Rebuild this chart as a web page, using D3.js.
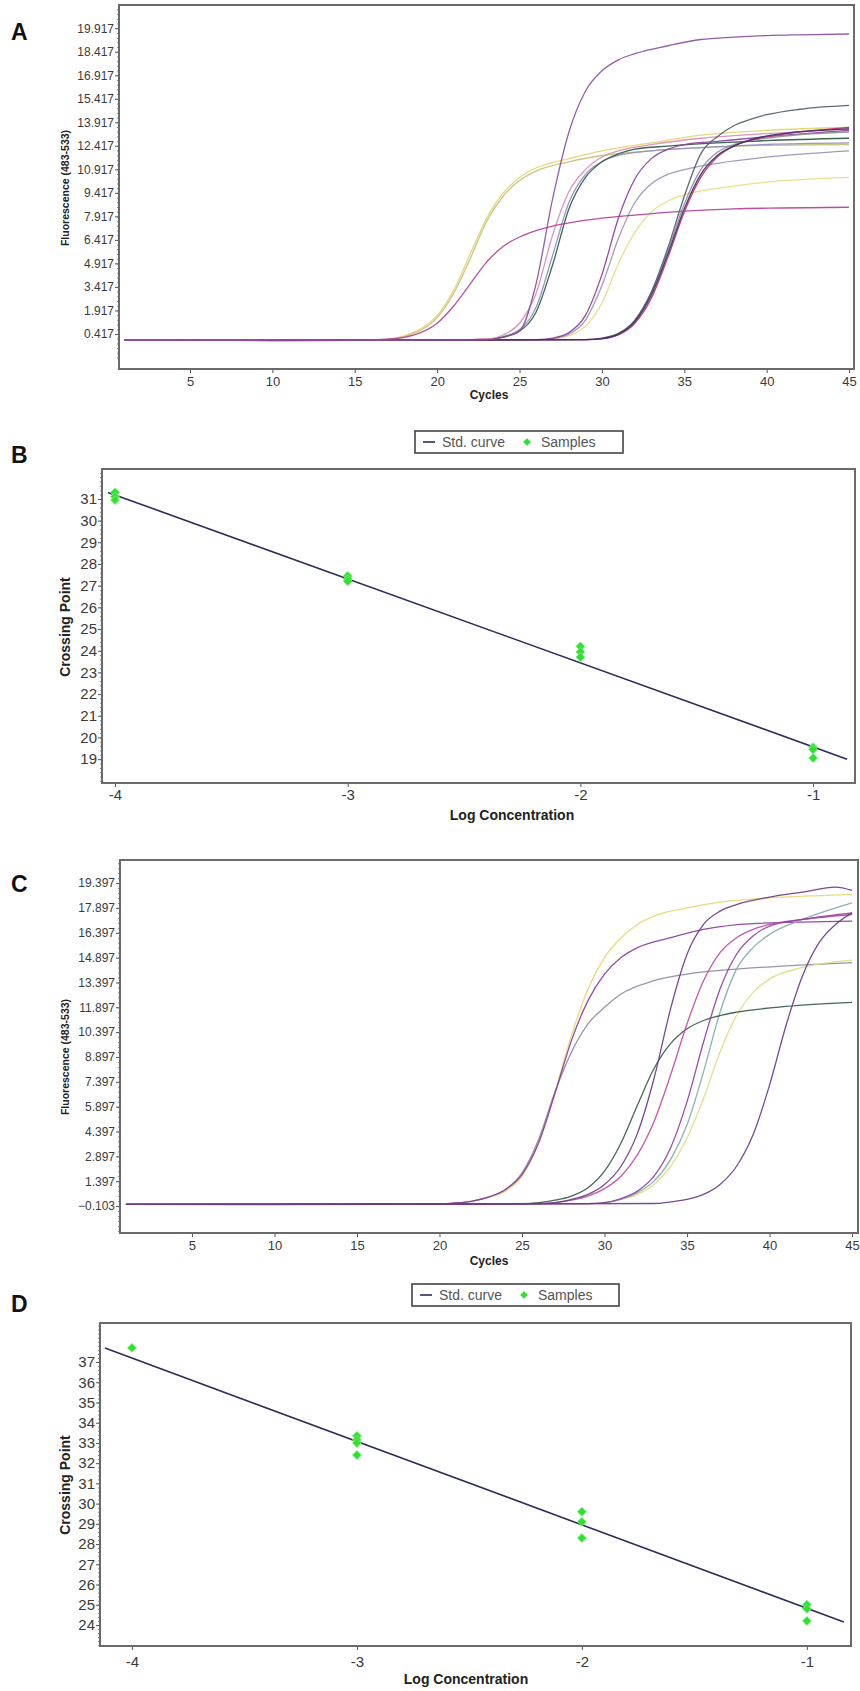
<!DOCTYPE html>
<html><head><meta charset="utf-8">
<script src="https://cdn.jsdelivr.net/npm/d3@7"></script>
<style>
body{margin:0;background:#fff;}
svg{display:block;font-family:"Liberation Sans",Arial,sans-serif;}
</style></head><body>
<svg id="fig" width="860" height="1691"></svg>
<script>
// ---------- tick labels ----------
const cycleTicks = [5,10,15,20,25,30,35,40,45];
const fluorTicksA = [0.417,1.917,3.417,4.917,6.417,7.917,9.417,10.917,12.417,13.917,15.417,16.917,18.417,19.917];
const fluorTicksC = [-0.103,1.397,2.897,4.397,5.897,7.397,8.897,10.397,11.897,13.397,14.897,16.397,17.897,19.397];
const logTicks = [-4,-3,-2,-1];
const cpTicksB = [19,20,21,22,23,24,25,26,27,28,29,30,31];
const cpTicksD = [24,25,26,27,28,29,30,31,32,33,34,35,36,37];

// ---------- panel A amplification curves: [cycle, fluorescence] ----------
const A_yellow      = [[1,0],[15,0.02],[17,0.08],[18,0.3],[19,0.75],[20,1.6],[21,3.2],[22,5.5],[23,7.8],[24,9.4],[25,10.4],[26,11.0],[28,11.6],[30,12.1],[33,12.6],[36,13.1],[40,13.4],[45,13.6]];
const A_olive       = [[1,0],[15,0.02],[17,0.07],[18,0.25],[19,0.65],[20,1.45],[21,3.0],[22,5.2],[23,7.6],[24,9.2],[25,10.2],[26,10.8],[28,11.4],[30,11.8],[33,12.1],[36,12.3],[40,12.45],[45,12.5]];
const A_yellowC     = [[1,0],[20,0.02],[26,0.04],[27,0.1],[28,0.3],[29,0.9],[30,2.4],[31,4.9],[32,6.9],[33,8.2],[34,8.9],[35,9.3],[37,9.7],[40,10.1],[45,10.4]];
const A_lavender    = [[1,0],[20,0.02],[23,0.08],[24,0.25],[25,0.7],[26,2.1],[27,5.4],[28,8.8],[29,10.6],[30,11.4],[31,11.8],[33,12.1],[36,12.3],[40,12.5],[45,12.6]];
const A_darkGreen   = [[1,0],[20,0.02],[23,0.07],[24,0.22],[25,0.6],[26,1.8],[27,4.8],[28,8.4],[29,10.4],[30,11.4],[31,11.9],[32,12.2],[34,12.4],[37,12.6],[40,12.75],[45,12.9]];
const A_pink        = [[1,0],[20,0.02],[23,0.1],[24,0.35],[25,1.1],[26,3.0],[27,6.7],[28,9.5],[29,10.9],[30,11.7],[31,12.1],[33,12.5],[36,12.9],[40,13.2],[45,13.5]];
const A_grayPurpleC = [[1,0],[20,0.02],[26,0.05],[27,0.12],[28,0.4],[29,1.3],[30,3.5],[31,6.5],[32,8.8],[33,10.0],[34,10.6],[35,10.9],[37,11.3],[40,11.7],[45,12.1]];
const A_purpleC     = [[1,0],[20,0.02],[26,0.05],[27,0.15],[28,0.5],[29,1.6],[30,4.2],[31,7.8],[32,10.3],[33,11.6],[34,12.2],[35,12.5],[37,12.7],[40,13.0],[45,13.4]];
const A_grayD       = [[1,0],[20,0.02],[29,0.05],[30,0.12],[31,0.4],[32,1.25],[33,3.0],[34,5.7],[35,8.7],[36,10.9],[37,12.0],[38,12.5],[40,12.9],[45,13.3]];
const A_slateD      = [[1,0],[20,0.02],[29,0.05],[30,0.15],[31,0.45],[32,1.3],[33,3.1],[34,5.9],[35,9.2],[36,11.9],[37,13.0],[38,13.7],[39,14.1],[40,14.4],[42,14.75],[45,15.0]];
const A_redD        = [[1,0],[20,0.02],[29,0.05],[30,0.1],[31,0.35],[32,1.1],[33,2.7],[34,5.3],[35,8.2],[36,10.4],[37,11.7],[38,12.4],[40,13.0],[42,13.3],[45,13.6]];
const A_navyD       = [[1,0],[20,0.02],[29,0.05],[30,0.12],[31,0.4],[32,1.2],[33,2.9],[34,5.5],[35,8.4],[36,10.6],[37,11.8],[38,12.4],[39,12.8],[41,13.2],[45,13.5]];
const A_magentaLow  = [[1,0],[15,0.02],[17,0.08],[18,0.2],[19,0.5],[20,1.1],[21,2.2],[22,3.6],[23,5.0],[24,6.0],[25,6.6],[26,7.0],[27,7.3],[28,7.5],[30,7.8],[32,8.0],[35,8.25],[38,8.4],[41,8.45],[45,8.5]];
const A_tallPurple  = [[1,0],[5,0.02],[10,-0.02],[15,0],[20,0.02],[23,0.05],[24,0.2],[25,0.6],[26,3.6],[27,9.0],[28,13.3],[29,15.9],[30,17.2],[31,17.9],[32,18.3],[34,18.8],[36,19.2],[38,19.35],[40,19.45],[42,19.5],[45,19.55]];

const curvesA = [A_yellow, A_olive, A_yellowC, A_lavender, A_darkGreen, A_pink, A_grayPurpleC, A_purpleC, A_grayD, A_slateD, A_redD, A_navyD, A_magentaLow, A_tallPurple];
const colorsA = ["#e6d46c","#c6c27c","#e8dc88","#8e8cc4","#2f5a3e","#d98cb3","#9c92b2","#8a3d9e","#8e8e98","#4e5e6a","#c0306a","#3a2f6a","#b0409a","#8b4fa0"];

// ---------- panel C amplification curves ----------
const C_yellow1     = [[1,0],[15,0.02],[20,0.02],[21,0.08],[22,0.2],[23,0.42],[24,0.8],[25,1.7],[26,3.7],[27,6.8],[28,10.2],[29,13.0],[30,14.9],[31,16.1],[32,16.9],[33,17.4],[35,17.9],[37,18.25],[40,18.5],[45,18.7]];
const C_grayPurple1 = [[1,0],[15,0.02],[20,0.02],[21,0.08],[22,0.2],[23,0.45],[24,0.9],[25,1.9],[26,3.9],[27,6.8],[28,9.2],[29,10.9],[30,11.9],[31,12.7],[33,13.5],[35,13.9],[38,14.2],[41,14.4],[45,14.6]];
const C_purple1     = [[1,0],[15,0.02],[20,0.02],[21,0.08],[22,0.2],[23,0.45],[24,0.9],[25,1.8],[26,3.7],[27,6.7],[28,9.9],[29,12.3],[30,13.9],[31,14.9],[32,15.5],[34,16.1],[36,16.6],[39,16.95],[45,17.1]];
const C_yellow3     = [[1,0],[20,0.02],[29,0.04],[30,0.1],[31,0.3],[32,0.6],[33,1.2],[34,2.3],[35,4.0],[36,6.4],[37,9.2],[38,11.4],[39,12.8],[40,13.6],[42,14.3],[45,14.75]];
const C_teal3       = [[1,0],[20,0.02],[29,0.04],[30,0.1],[31,0.3],[32,0.7],[33,1.4],[34,2.7],[35,4.8],[36,8.0],[37,11.6],[38,14.2],[39,15.5],[40,16.3],[42,17.2],[45,18.2]];
const C_darkGreen2  = [[1,0],[20,0.02],[25,0.04],[26,0.1],[27,0.25],[28,0.5],[29,1.0],[30,2.0],[31,3.7],[32,6.0],[33,8.2],[34,9.7],[35,10.6],[36,11.1],[37,11.4],[38,11.6],[41,11.95],[45,12.2]];
const C_magenta2    = [[1,0],[20,0.02],[26,0.04],[27,0.1],[28,0.25],[29,0.5],[30,0.95],[31,1.7],[32,3.0],[33,5.0],[34,7.8],[35,10.9],[36,13.5],[37,15.2],[38,16.1],[39,16.6],[40,16.9],[42,17.2],[45,17.5]];
const C_purple3     = [[1,0],[20,0.02],[29,0.04],[30,0.1],[31,0.35],[32,0.8],[33,1.7],[34,3.4],[35,6.2],[36,9.8],[37,13.0],[38,15.1],[39,16.2],[40,16.8],[42,17.2],[45,17.6]];
const C_purple2     = [[1,0],[20,0.02],[26,0.04],[27,0.1],[28,0.3],[29,0.6],[30,1.2],[31,2.3],[32,4.3],[33,7.6],[34,11.8],[35,15.1],[36,16.9],[37,17.7],[38,18.1],[40,18.55],[42,18.85],[44,19.15],[45,18.95]];
const C_purple4     = [[1,0],[10,-0.02],[20,0.02],[33,0.05],[34,0.15],[35,0.3],[36,0.6],[37,1.2],[38,2.3],[39,4.2],[40,7.2],[41,10.8],[42,13.8],[43,15.8],[44,16.9],[45,17.6]];

const curvesC = [C_yellow1, C_grayPurple1, C_purple1, C_yellow3, C_teal3, C_darkGreen2, C_magenta2, C_purple3, C_purple2, C_purple4];
const colorsC = ["#e6d86e","#8e8aa6","#8a3c9c","#e2dc86","#86a8ae","#355a48","#c048a6","#9040a0","#6e3a88","#6a3c8a"];

// ---------- standard curves ----------
const stdLineB = [[-4.03,31.3],[-0.854,19.0]];
const samplesB = [[-4,31.3],[-4,31.1],[-4,30.95],[-3,27.45],[-3,27.3],[-3,27.2],[-2,24.2],[-2,23.95],[-2,23.7],[-1,19.55],[-1,19.45],[-1,19.05]];
const stdLineD = [[-4.12,37.69],[-0.836,24.15]];
const samplesD = [[-4,37.7],[-3,33.35],[-3,33.15],[-3,33.0],[-3,32.4],[-2,29.6],[-2,29.1],[-2,28.3],[-1,25.0],[-1,24.8],[-1,24.2]];

const legendLabels = ["Std. curve","Samples"];

// ---------- drawing ----------
const svg = d3.select("#fig");
const FRAME = "#6a6a6a", TICKTXT = "#3a3a3a", STD = "#2b2b5e", GREEN = "#30e030";

function frame(g, x0, y0, x1, y1){
  g.append("rect").attr("x",x0).attr("y",y0).attr("width",x1-x0).attr("height",y1-y0)
   .attr("fill","none").attr("stroke",FRAME).attr("stroke-width",2);
}
function styleAxis(sel, fs){
  sel.select(".domain").remove();
  sel.selectAll(".tick line").attr("stroke","#555");
  sel.selectAll(".tick text").attr("fill",TICKTXT).style("font-size",fs+"px");
}
function panelLetter(t, x, y){
  svg.append("text").attr("x",x).attr("y",y).text(t)
    .style("font-size","23px").style("font-weight","bold").attr("fill","#111");
}
function yTitle(t, x, y, fs){
  svg.append("text").attr("transform",`translate(${x},${y}) rotate(-90)`)
    .attr("text-anchor","middle").attr("dy","0.35em").text(t)
    .style("font-size",fs+"px").style("font-weight","bold").attr("fill","#222");
}
function xTitle(t, x, y, fs){
  svg.append("text").attr("x",x).attr("y",y).attr("text-anchor","middle").text(t)
    .style("font-size",fs+"px").style("font-weight","bold").attr("fill","#222");
}

function ampPanel(o){
  const g = svg.append("g");
  const x = d3.scaleLinear().domain(o.xDom).range([o.x0,o.x1]);
  const y = d3.scaleLinear().domain(o.yDom).range([o.y1,o.y0]);
  const cid = "clip"+o.id;
  g.append("clipPath").attr("id",cid).append("rect")
    .attr("x",o.x0).attr("y",o.y0).attr("width",o.x1-o.x0).attr("height",o.y1-o.y0);
  const line = d3.line().x(d=>x(d[0])).y(d=>y(d[1])).curve(d3.curveMonotoneX);
  g.append("g").attr("clip-path",`url(#${cid})`).selectAll("path").data(o.curves).join("path")
    .attr("d",line).attr("fill","none").attr("stroke",(d,i)=>o.colors[i])
    .attr("stroke-width",1.3).attr("stroke-opacity",0.92);
  const yMin = o.yTicks[0], step = (o.yTicks[1]-o.yTicks[0])/5;
  const minor = d3.range(0,80).map(k=>yMin+(k-5)*step).filter(v=>v>o.yDom[0]&&v<o.yDom[1]);
  g.append("g").attr("transform",`translate(${o.x0},0)`)
    .call(d3.axisLeft(y).tickValues(minor).tickSize(2).tickFormat(""))
    .call(s=>{s.select(".domain").remove(); s.selectAll("line").attr("stroke","#888");});
  g.append("g").attr("transform",`translate(${o.x0},0)`)
    .call(d3.axisLeft(y).tickValues(o.yTicks).tickSize(4).tickPadding(1).tickFormat(d3.format(".3f")))
    .call(s=>styleAxis(s,12));
  g.append("g").attr("transform",`translate(0,${o.y1})`)
    .call(d3.axisBottom(x).tickValues(cycleTicks).tickSize(4).tickPadding(4))
    .call(s=>styleAxis(s,13));
  frame(g,o.x0,o.y0,o.x1,o.y1);
}

function stdPanel(o){
  const g = svg.append("g");
  const x = d3.scaleLinear().domain(o.xDom).range([o.x0,o.x1]);
  const y = d3.scaleLinear().domain(o.yDom).range([o.y1,o.y0]);
  const minor = d3.range(Math.ceil(o.yDom[0]*5), Math.floor(o.yDom[1]*5)+1).map(k=>k/5);
  g.append("g").attr("transform",`translate(${o.x0},0)`)
    .call(d3.axisLeft(y).tickValues(minor).tickSize(2).tickFormat(""))
    .call(s=>{s.select(".domain").remove(); s.selectAll("line").attr("stroke","#888");});
  g.append("g").attr("transform",`translate(${o.x0},0)`)
    .call(d3.axisLeft(y).tickValues(o.yTicks).tickSize(4).tickPadding(1).tickFormat(d3.format("d")))
    .call(s=>styleAxis(s,15));
  g.append("g").attr("transform",`translate(0,${o.y1})`)
    .call(d3.axisBottom(x).tickValues(logTicks).tickSize(4).tickPadding(o.xPad).tickFormat(d=>"-"+Math.abs(d)))
    .call(s=>styleAxis(s,15));
  g.append("path").datum(o.std).attr("d",d3.line().x(d=>x(d[0])).y(d=>y(d[1])))
    .attr("stroke",STD).attr("stroke-width",1.6).attr("fill","none");
  g.append("g").selectAll("path").data(o.samples).join("path")
    .attr("d",d3.symbol(d3.symbolSquare,40))
    .attr("transform",d=>`translate(${x(d[0])},${y(d[1])}) rotate(45)`)
    .attr("fill",GREEN).attr("stroke","#7af07a").attr("stroke-width",0.8);
  frame(g,o.x0,o.y0,o.x1,o.y1);
  const L = svg.append("g").attr("transform",`translate(${o.lx},${o.ly})`);
  L.append("rect").attr("width",o.lw).attr("height",22).attr("fill","#fff")
    .attr("stroke","#444").attr("stroke-width",1.6);
  L.append("line").attr("x1",8).attr("x2",20).attr("y1",11).attr("y2",11).attr("stroke",STD).attr("stroke-width",1.6);
  L.append("text").attr("x",27).attr("y",16).text(legendLabels[0]).style("font-size","14px").attr("fill","#555");
  L.append("path").attr("d",d3.symbol(d3.symbolSquare,30)).attr("transform","translate(112,11) rotate(45)").attr("fill",GREEN);
  L.append("text").attr("x",126).attr("y",16).text(legendLabels[1]).style("font-size","14px").attr("fill","#555");
}

// Panel A
panelLetter("A",11,40);
ampPanel({id:"A",x0:119,y0:5,x1:854,y1:369,xDom:[0.69,45.3],yDom:[-1.82,21.4],yTicks:fluorTicksA,curves:curvesA,colors:colorsA});
yTitle("Fluorescence (483-533)",65,188,10.5);
xTitle("Cycles",489,399,12);

// Panel B
panelLetter("B",11,463);
stdPanel({x0:102,y0:469,x1:855,y1:783,xDom:[-4.056,-0.82],yDom:[17.9,32.38],yTicks:cpTicksB,std:stdLineB,samples:samplesB,xPad:2,lx:415,ly:431,lw:208});
yTitle("Crossing Point",65,627,14);
xTitle("Log Concentration",512,820,14);

// Panel C
panelLetter("C",11,892);
ampPanel({id:"C",x0:120,y0:860,x1:858,y1:1233,xDom:[0.64,45.36],yDom:[-1.73,20.79],yTicks:fluorTicksC,curves:curvesC,colors:colorsC});
yTitle("Fluorescence (483-533)",65,1057,10.5);
xTitle("Cycles",489,1265,12);

// Panel D
panelLetter("D",11,1312);
stdPanel({x0:100,y0:1323,x1:851,y1:1646,xDom:[-4.142,-0.804],yDom:[22.96,38.93],yTicks:cpTicksD,std:stdLineD,samples:samplesD,xPad:6,lx:412,ly:1284,lw:207});
yTitle("Crossing Point",65,1485,14);
xTitle("Log Concentration",466,1684,14);
</script></body></html>
